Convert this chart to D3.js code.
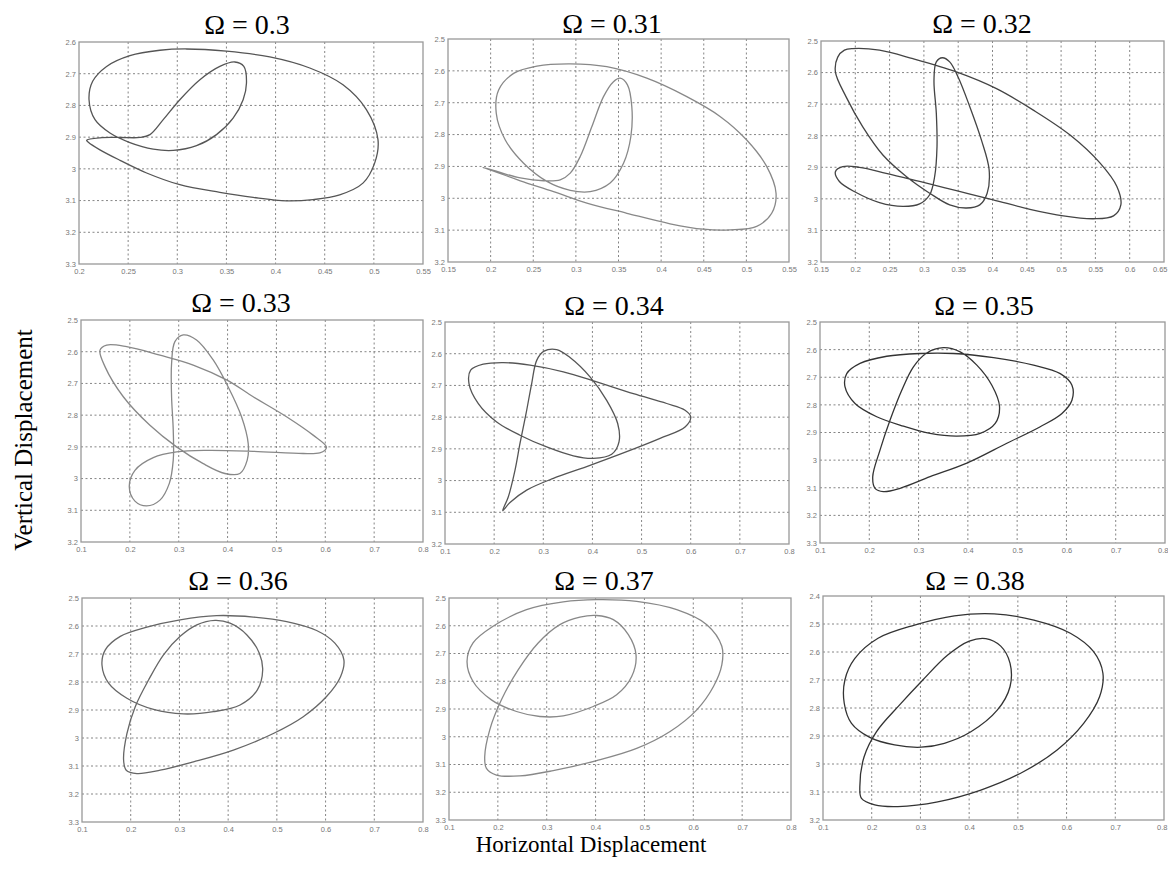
<!DOCTYPE html>
<html>
<head>
<meta charset="utf-8">
<script src="https://d3js.org/d3.v7.min.js"></script>
<style>
  body { margin: 0; background: #fff; }
  svg { display: block; }
  .tick text { font-family: "Liberation Sans", Arial, sans-serif; font-size: 7.5px; fill: #777; }
  .title { font-family: "Liberation Serif", "Times New Roman", serif; font-size: 28px; fill: #000; }
  .axis-title { font-family: "Liberation Serif", "Times New Roman", serif; fill: #000; }
</style>
</head>
<body>
<script>
// frequency ratio of each panel
const omegas = [0.3, 0.31, 0.32, 0.33, 0.34, 0.35, 0.36, 0.37, 0.38];

// axis ranges and tick steps
const xDomains = [[0.2, 0.55], [0.15, 0.55], [0.15, 0.65], [0.1, 0.8], [0.1, 0.8], [0.1, 0.8], [0.1, 0.8], [0.1, 0.8], [0.1, 0.8]];
const yDomains = [[2.6, 3.3], [2.5, 3.2], [2.5, 3.2], [2.5, 3.2], [2.5, 3.2], [2.5, 3.3], [2.5, 3.3], [2.5, 3.3], [2.4, 3.2]];
const xSteps = [0.05, 0.05, 0.05, 0.1, 0.1, 0.1, 0.1, 0.1, 0.1];
const ySteps = [0.1, 0.1, 0.1, 0.1, 0.1, 0.1, 0.1, 0.1, 0.1];

// orbit points [horizontal, vertical] for every omega
const orbit30 = [[0.2078,2.910],[0.2213,2.902],[0.2417,2.901],[0.262,2.901],[0.2722,2.892],[0.2857,2.845],[0.3026,2.782],[0.323,2.719],[0.3433,2.677],[0.3585,2.663],[0.3677,2.677],[0.3704,2.729],[0.367,2.782],[0.3568,2.840],[0.3399,2.892],[0.3196,2.927],[0.2959,2.942],[0.2755,2.938],[0.2518,2.917],[0.2315,2.887],[0.2163,2.845],[0.2102,2.782],[0.2139,2.724],[0.2281,2.677],[0.2518,2.643],[0.2823,2.626],[0.3094,2.622],[0.35,2.629],[0.3941,2.647],[0.4348,2.682],[0.4686,2.735],[0.4924,2.813],[0.5042,2.908],[0.5008,2.982],[0.4889,3.045],[0.4652,3.082],[0.4381,3.097],[0.411,3.101],[0.3772,3.090],[0.3433,3.074],[0.3026,3.050],[0.2688,3.013],[0.2417,2.973],[0.2213,2.940],[0.2095,2.916]];
const orbit31 = [[0.191,2.903],[0.2113,2.919],[0.2348,2.936],[0.2621,2.945],[0.2816,2.942],[0.2934,2.921],[0.3051,2.869],[0.3188,2.775],[0.3324,2.681],[0.3441,2.634],[0.352,2.623],[0.3605,2.644],[0.3656,2.712],[0.3645,2.806],[0.3559,2.890],[0.3402,2.952],[0.3168,2.979],[0.2934,2.975],[0.266,2.947],[0.2387,2.890],[0.2172,2.817],[0.2066,2.733],[0.2094,2.660],[0.227,2.608],[0.2543,2.585],[0.2934,2.578],[0.3363,2.587],[0.3832,2.623],[0.4301,2.681],[0.4691,2.743],[0.5004,2.817],[0.5238,2.900],[0.5348,2.984],[0.5297,3.047],[0.5121,3.088],[0.4809,3.099],[0.4496,3.097],[0.4105,3.080],[0.3598,3.047],[0.3129,3.015],[0.2738,2.979],[0.2348,2.945],[0.2035,2.915]];
const orbit32 = [[0.1963,2.524],[0.2353,2.529],[0.284,2.556],[0.3474,2.598],[0.4058,2.651],[0.4595,2.719],[0.5131,2.798],[0.5569,2.887],[0.5813,2.961],[0.5871,3.019],[0.5764,3.054],[0.5472,3.063],[0.5033,3.054],[0.4546,3.033],[0.401,3.003],[0.3474,2.974],[0.2938,2.945],[0.245,2.919],[0.206,2.900],[0.1817,2.898],[0.171,2.914],[0.1768,2.945],[0.2012,2.980],[0.2353,3.012],[0.2694,3.024],[0.2938,3.016],[0.3084,2.987],[0.3157,2.929],[0.3191,2.835],[0.3181,2.729],[0.3147,2.624],[0.3181,2.566],[0.3269,2.553],[0.3376,2.566],[0.3498,2.614],[0.3669,2.708],[0.3839,2.814],[0.3951,2.908],[0.3922,2.982],[0.3815,3.019],[0.362,3.029],[0.3376,3.019],[0.3084,2.982],[0.2743,2.929],[0.2402,2.861],[0.2109,2.772],[0.1866,2.677],[0.171,2.598],[0.1744,2.551],[0.1841,2.529]];
const orbit33 = [[0.6024,2.900],[0.5751,2.863],[0.5206,2.805],[0.4524,2.742],[0.3979,2.689],[0.3297,2.642],[0.2616,2.611],[0.1934,2.584],[0.1525,2.579],[0.1389,2.595],[0.1491,2.647],[0.1866,2.742],[0.2411,2.832],[0.2956,2.900],[0.3502,2.953],[0.3945,2.984],[0.4252,2.984],[0.4402,2.942],[0.4422,2.889],[0.4286,2.805],[0.4013,2.711],[0.3706,2.626],[0.3365,2.563],[0.3093,2.547],[0.2922,2.568],[0.2854,2.637],[0.2854,2.742],[0.2888,2.847],[0.2888,2.942],[0.2806,3.016],[0.2616,3.068],[0.2343,3.086],[0.2104,3.071],[0.1988,3.026],[0.2104,2.974],[0.2479,2.934],[0.2956,2.916],[0.357,2.911],[0.4524,2.914],[0.5547,2.921],[0.5888,2.919],[0.599,2.911]];
const orbit34 = [[0.2174,3.095],[0.2289,3.051],[0.2425,2.967],[0.2526,2.883],[0.2649,2.789],[0.2764,2.694],[0.2866,2.621],[0.3015,2.592],[0.3273,2.587],[0.3544,2.612],[0.3951,2.673],[0.429,2.747],[0.4514,2.820],[0.4541,2.878],[0.4392,2.917],[0.4019,2.930],[0.3612,2.922],[0.3069,2.894],[0.2526,2.857],[0.2052,2.815],[0.1678,2.757],[0.1488,2.694],[0.1522,2.652],[0.178,2.633],[0.2187,2.628],[0.273,2.636],[0.3408,2.657],[0.4087,2.689],[0.4833,2.726],[0.5512,2.757],[0.5885,2.778],[0.6,2.799],[0.5885,2.831],[0.5376,2.867],[0.4697,2.909],[0.3883,2.956],[0.3205,2.993],[0.2662,3.030],[0.2323,3.069]];
const orbit35 = [[0.207,3.060],[0.2219,2.963],[0.2422,2.855],[0.2659,2.747],[0.2896,2.662],[0.3167,2.612],[0.3505,2.593],[0.3844,2.608],[0.4182,2.656],[0.4487,2.729],[0.4643,2.807],[0.4555,2.867],[0.425,2.903],[0.3776,2.913],[0.3234,2.903],[0.2693,2.877],[0.2151,2.843],[0.1711,2.795],[0.1508,2.735],[0.1542,2.687],[0.1812,2.650],[0.2354,2.624],[0.3031,2.614],[0.3708,2.614],[0.4521,2.629],[0.5333,2.656],[0.5875,2.687],[0.6112,2.729],[0.6112,2.783],[0.5909,2.831],[0.5469,2.879],[0.4791,2.939],[0.3979,3.011],[0.3234,3.060],[0.2625,3.102],[0.2286,3.114],[0.2117,3.102]];
const orbit36 = [[0.1854,3.079],[0.1922,2.984],[0.2093,2.888],[0.2366,2.793],[0.2673,2.703],[0.3015,2.637],[0.3357,2.596],[0.3732,2.580],[0.4039,2.590],[0.4381,2.631],[0.464,2.697],[0.4709,2.757],[0.46,2.828],[0.4245,2.882],[0.3698,2.906],[0.3083,2.914],[0.2469,2.898],[0.1922,2.858],[0.1546,2.804],[0.141,2.739],[0.1478,2.685],[0.1786,2.637],[0.2332,2.604],[0.3015,2.578],[0.3766,2.563],[0.4518,2.568],[0.5201,2.584],[0.5816,2.616],[0.6191,2.661],[0.6376,2.721],[0.6307,2.781],[0.602,2.852],[0.5542,2.924],[0.4928,2.984],[0.4108,3.043],[0.3288,3.085],[0.2605,3.115],[0.2127,3.127],[0.1908,3.115]];
const orbit37 = [[0.1731,3.072],[0.1834,2.975],[0.2073,2.867],[0.2415,2.759],[0.2825,2.662],[0.3269,2.596],[0.3679,2.569],[0.4021,2.563],[0.4363,2.578],[0.4671,2.632],[0.4828,2.705],[0.4739,2.783],[0.4431,2.849],[0.3953,2.891],[0.3338,2.925],[0.2859,2.927],[0.2381,2.909],[0.1868,2.867],[0.1492,2.801],[0.1369,2.729],[0.1492,2.662],[0.1902,2.602],[0.2586,2.542],[0.3338,2.514],[0.4021,2.506],[0.4841,2.512],[0.5662,2.542],[0.6277,2.596],[0.6584,2.674],[0.6584,2.741],[0.6413,2.819],[0.6072,2.903],[0.5525,2.981],[0.4841,3.042],[0.4021,3.086],[0.3133,3.122],[0.2449,3.141],[0.1971,3.138],[0.1766,3.114]];
const orbit38 = [[0.1756,3.081],[0.1844,2.974],[0.2096,2.885],[0.2573,2.789],[0.3049,2.700],[0.356,2.611],[0.4002,2.561],[0.4342,2.552],[0.4649,2.579],[0.4839,2.640],[0.4839,2.724],[0.4581,2.807],[0.4036,2.885],[0.3491,2.926],[0.3015,2.940],[0.247,2.932],[0.196,2.905],[0.1585,2.855],[0.1436,2.783],[0.1449,2.700],[0.1654,2.623],[0.213,2.551],[0.2879,2.504],[0.3696,2.471],[0.4513,2.464],[0.5329,2.486],[0.6078,2.533],[0.6555,2.599],[0.6746,2.676],[0.6677,2.760],[0.6351,2.855],[0.5806,2.950],[0.5057,3.033],[0.424,3.093],[0.3355,3.135],[0.2538,3.152],[0.2062,3.146],[0.179,3.123]];
const orbits = [orbit30, orbit31, orbit32, orbit33, orbit34, orbit35, orbit36, orbit37, orbit38];

// page layout: plot box of each panel and title anchor
const boxes = [
  {l: 79,  t: 42,  r: 423,  b: 264, tx: 247, ty: 34,  ink: "#555"},
  {l: 448, t: 39,  r: 789,  b: 262, tx: 612, ty: 33,  ink: "#888"},
  {l: 821, t: 41,  r: 1164, b: 262, tx: 982, ty: 33,  ink: "#444"},
  {l: 81,  t: 320, r: 423,  b: 542, tx: 241, ty: 312, ink: "#888"},
  {l: 445, t: 322, r: 789,  b: 544, tx: 614, ty: 315, ink: "#555"},
  {l: 820, t: 322, r: 1165, b: 543, tx: 984, ty: 315, ink: "#333"},
  {l: 82,  t: 598, r: 423,  b: 822, tx: 238, ty: 590, ink: "#666"},
  {l: 449, t: 598, r: 791,  b: 820, tx: 604, ty: 590, ink: "#888"},
  {l: 823, t: 596, r: 1164, b: 820, tx: 975, ty: 590, ink: "#333"}
];

const W = 1168, H = 878;
const svg = d3.select("body").append("svg").attr("width", W).attr("height", H);

const fmt = d => String(+d.toFixed(2));
const ticksFor = (dom, step) => d3.range(Math.round((dom[1] - dom[0]) / step) + 1).map(i => +(dom[0] + i * step).toFixed(3));

omegas.forEach((om, i) => {
  const bx = boxes[i];
  const w = bx.r - bx.l, h = bx.b - bx.t;
  const x = d3.scaleLinear().domain(xDomains[i]).range([0, w]);
  const y = d3.scaleLinear().domain(yDomains[i]).range([0, h]); // values grow downward
  const xt = ticksFor(xDomains[i], xSteps[i]);
  const yt = ticksFor(yDomains[i], ySteps[i]);

  const g = svg.append("g").attr("transform", `translate(${bx.l},${bx.t})`);

  // dotted grid
  g.append("g").selectAll("line").data(xt.slice(1, -1)).join("line")
    .attr("x1", d => x(d)).attr("x2", d => x(d)).attr("y1", 0).attr("y2", h)
    .attr("stroke", "#777").attr("stroke-width", 0.9).attr("stroke-dasharray", "2,2.5");
  g.append("g").selectAll("line").data(yt.slice(1, -1)).join("line")
    .attr("y1", d => y(d)).attr("y2", d => y(d)).attr("x1", 0).attr("x2", w)
    .attr("stroke", "#777").attr("stroke-width", 0.9).attr("stroke-dasharray", "2,2.5");

  // box
  g.append("rect").attr("width", w).attr("height", h)
    .attr("fill", "none").attr("stroke", "#999").attr("stroke-width", 1.3);

  // tick labels
  const ax = g.append("g").attr("transform", `translate(0,${h})`)
    .call(d3.axisBottom(x).tickValues(xt).tickFormat(fmt).tickSize(0).tickPadding(5));
  const ay = g.append("g")
    .call(d3.axisLeft(y).tickValues(yt).tickFormat(fmt).tickSize(0).tickPadding(3));
  ax.select(".domain").remove();
  ay.select(".domain").remove();
  // keep the right-most labels inside the page
  if (bx.r > W - 12) {
    ax.selectAll(".tick text").filter((d, k) => k === xt.length - 1).attr("text-anchor", "end").attr("dx", 3);
  }

  // orbit
  const line = d3.line().x(d => x(d[0])).y(d => y(d[1])).curve(d3.curveCatmullRomClosed.alpha(0.5));
  g.append("path").datum(orbits[i]).attr("d", line)
    .attr("fill", "none").attr("stroke", bx.ink).attr("stroke-width", 1.3);

  svg.append("text").attr("class", "title").attr("x", bx.tx).attr("y", bx.ty)
    .attr("text-anchor", "middle").text(`Ω = ${om}`);
});

svg.append("text").attr("class", "axis-title")
  .attr("transform", "translate(32,440) rotate(-90)")
  .attr("text-anchor", "middle").style("font-size", "25px")
  .text("Vertical Displacement");

svg.append("text").attr("class", "axis-title")
  .attr("x", 591).attr("y", 852).attr("text-anchor", "middle").style("font-size", "23px")
  .text("Horizontal Displacement");
</script>
</body>
</html>
